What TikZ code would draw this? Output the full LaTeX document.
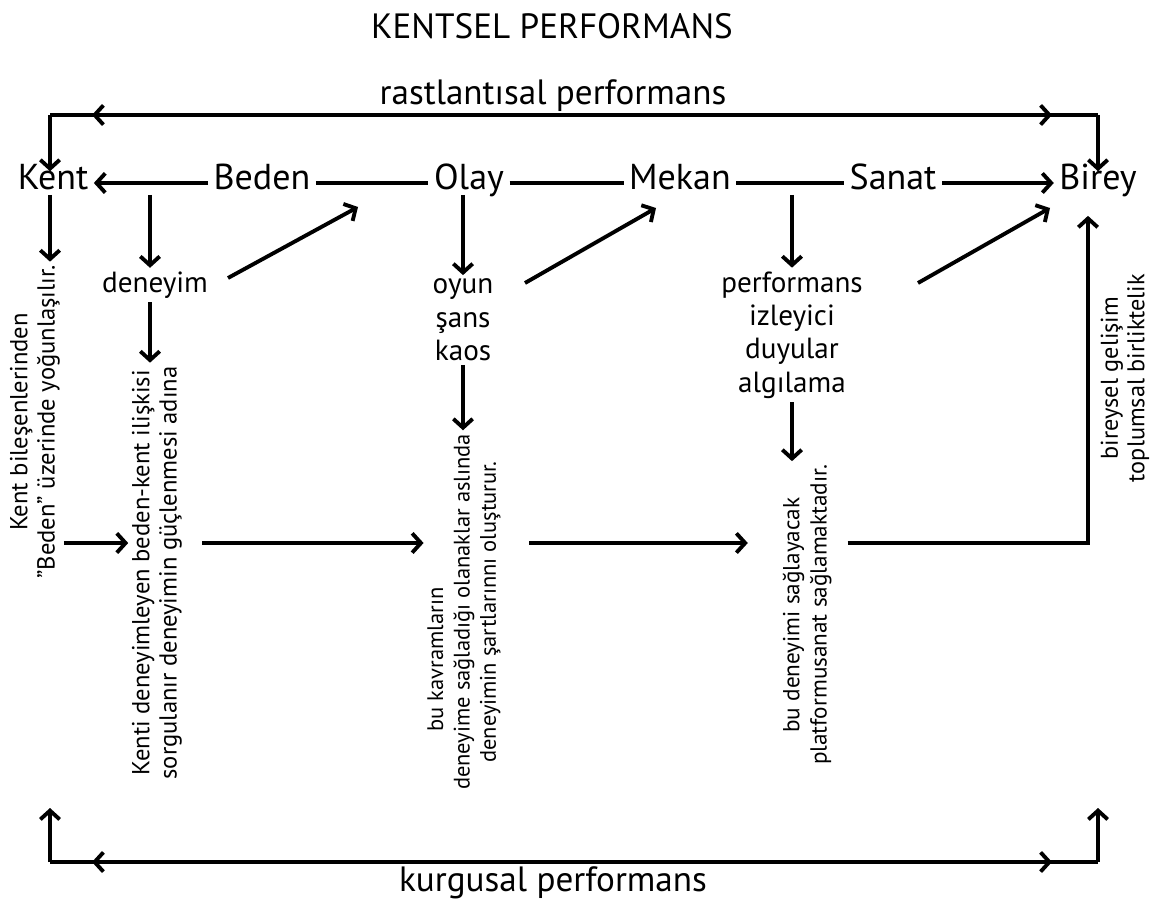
\documentclass[tikz,border=0pt]{standalone}
\usepackage{fontspec}
\setmainfont{PT Sans}
\usetikzlibrary{positioning,arrows.meta,calc}
\tikzset{
  >={Straight Barb[length=5pt,width=11pt]},
  link/.style={line width=2.2pt},
  big/.style={font=\fontsize{20}{24}\selectfont},
  word/.style={
    font=\fontsize{20.5}{24}\selectfont,
    inner sep=3pt,
    text height=0.7em,
    text depth=0pt
  },
  keyw/.style={font=\fontsize{16.6}{19}\selectfont, align=center, inner sep=2pt},
  vtext/.style={rotate=90, align=center, font=\fontsize{14}{15.5}\selectfont, inner sep=2pt}
}

\begin{document}
\begin{tikzpicture}[x=0.02cm, y=-0.02cm]
  \useasboundingbox (0,0) rectangle (1163,902);

  % titles
  \node[big] (title) at (552,26) {KENTSEL PERFORMANS};
  \node[big] (rast) at (553,96) {rastlantısal performans};
  \node[big] (kurg) at (553,883) {kurgusal performans};

  % main row
  \node[word] (kent) at (53,183) {Kent};
  \node[word] (beden) at (262,183) {Beden};
  \node[word] (olay) at (469,183) {Olay};
  \node[word] (mekan) at (680,183) {Mekan};
  \node[word] (sanat) at (893,183) {Sanat};
  \node[word] (birey) at (1098,183) {Birey};

  % keywords
  \node[keyw] (deneyim) at (155,285) {deneyim};
  \node[keyw] (oyun) at (463,320) {oyun\\şans\\kaos};
  \node[keyw] (perf) at (792,335) {performans\\izleyici\\duyular\\algılama};

  % vertical texts
  \node[vtext] (kenttxt) at (35,422) {Kent bileşenlerinden\\”Beden” üzerinde yoğunlaşılır.};
  \node[vtext] (bedentxt) at (157,573) {Kenti deneyimleyen beden-kent ilişkisi\\sorgulanır deneyimin güçlenmesi adına};
  \node[vtext, font=\fontsize{12.8}{15}\selectfont] (olaytxt) at (464,612)
    {bu kavramların\hspace*{1.9cm}\\deneyime sağladığı olanaklar aslında\\deneyimin şartlarınnı oluşturur.};
  \node[vtext, font=\fontsize{13.2}{15.5}\selectfont] (mekantxt) at (807,615) {bu deneyimi sağlayacak\\platformusanat sağlamaktadır.};
  \node[vtext, font=\fontsize{13.8}{15}\selectfont] (bireytxt) at (1125,378) {bireysel gelişim\\toplumsal birliktelik};

  \coordinate (tl) at (50,115);
  \coordinate (tr) at (1098,115);
  \coordinate (bl) at (50,862);
  \coordinate (bR) at (1098,862);
  \coordinate (blt) at (50,808);
  \coordinate (brt) at (1098,808);
  \coordinate (row) at (0,543);
  \coordinate (corner) at (1088,543);
  \coordinate (bo) at (358,207);
  \coordinate (om) at (656,208);
  \coordinate (sb) at (1050,208);

  % top loop
  \draw[link] (tl) -- (tr);
  \draw[link,<->] ($(tl)+(42,0)$) -- ($(tr)+(-46,0)$);
  \draw[link,->] (tl) -- (kent.north -| tl);
  \draw[link,->] (tr) -- (birey.north -| tr);

  % row
  \draw[link,->] (beden) -- (kent);
  \draw[link] (beden) -- (olay);
  \draw[link] (olay) -- (mekan);
  \draw[link] (mekan) -- (sanat);
  \draw[link,->] (sanat) -- (birey);

  % down arrows
  \draw[link,->] (kent.south -| tl) -- (kenttxt.east -| tl);
  \draw[link,->] (kent.south -| 150,0) -- (deneyim.north -| 150,0);
  \draw[link,->] (deneyim.south -| 150,0) -- (bedentxt.east -| 150,0);
  \draw[link,->] (olay.south -| oyun) -- (oyun.north);
  \draw[link,->] (oyun.south) -- (oyun.south |- olaytxt.east);
  \draw[link,->] (mekan.south -| perf) -- (perf.north);
  \draw[link,->] (perf.south) -- (perf.south |- mekantxt.east);

  % diagonals
  \draw[link,->] ([shift={(73,-7)}]deneyim.center) -- (bo);
  \draw[link,->] ([shift={(62,-37)}]oyun.center) -- (om);
  \draw[link,->] ([shift={(126,-52)}]perf.center) -- (sb);

  % lower row
  \draw[link,->] (kenttxt.south |- row) -- (bedentxt.north |- row);
  \draw[link,->,shorten <=9.4pt] (bedentxt.south |- row) -- (olaytxt.north |- row);
  \draw[link,->,shorten <=14pt,shorten >=17.6pt] (olaytxt.south |- row) -- (mekantxt.north |- row);
  \draw[link,->,shorten <=7pt] (mekantxt.south |- row) -- (corner) -- ([yshift=-12pt]birey.south -| corner);

  % bottom loop
  \draw[link] (bl) -- (bR);
  \draw[link,<->] ($(bl)+(42,0)$) -- ($(bR)+(-46,0)$);
  \draw[link,->] (bl) -- (blt);
  \draw[link,->] (bR) -- (brt);
\end{tikzpicture}
\end{document}
